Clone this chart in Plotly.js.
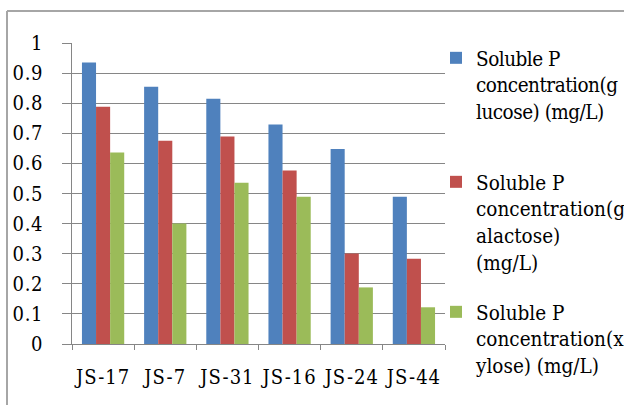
<!DOCTYPE html>
<html>
<head>
<meta charset="utf-8">
<script src="https://cdn.plot.ly/plotly-3.0.1.min.js"></script>
<style>
html,body{margin:0;padding:0;background:#fff;}
#chart{width:624px;height:405px;}
#chart .xtick text{letter-spacing:1px;}
#chart .ytick text{letter-spacing:0.6px;}
#chart .legend text{letter-spacing:-0.5px;}
</style>
</head>
<body>
<div id="chart"></div>
<script>
const categories = ["JS-17", "JS-7", "JS-31", "JS-16", "JS-24", "JS-44"];
const glucose   = [0.935, 0.855, 0.815, 0.729, 0.648, 0.489];
const galactose = [0.788, 0.675, 0.689, 0.576, 0.301, 0.283];
const xylose    = [0.636, 0.400, 0.536, 0.489, 0.188, 0.122];
const seriesNames = [
  "Soluble P<br>concentration(g<br>lucose) (mg/L)",
  "Soluble P<br>concentration(g<br>alactose)<br>(mg/L)",
  "Soluble P<br>concentration(x<br>ylose) (mg/L)"
];
const yTickVals = [0, 0.1, 0.2, 0.3, 0.4, 0.5, 0.6, 0.7, 0.8, 0.9, 1];
const yTickText = ["0", "0.1", "0.2", "0.3", "0.4", "0.5", "0.6", "0.7", "0.8", "0.9", "1"];

const colors = ["#4F81BD", "#C0504D", "#9BBB59"];
const FONT = "DejaVu Serif Condensed, DejaVu Serif, serif";
const legendKeys = ["legend", "legend2", "legend3"];

const traces = [glucose, galactose, xylose].map((vals, i) => ({
  type: "bar",
  x: categories,
  y: vals,
  name: seriesNames[i],
  marker: {color: colors[i]},
  legend: legendKeys[i],
  showlegend: true,
  hoverinfo: "skip"
}));

// pixel helpers for paper coordinates
const L = 72, R = 445, T = 43, B = 344;
const px = p => (p - L) / (R - L);
const py = p => (B - p) / (B - T);

function legendAt(topPx) {
  return {
    x: px(436), xanchor: "left",
    y: py(topPx), yanchor: "top",
    valign: "top",
    bgcolor: "rgba(0,0,0,0)",
    borderwidth: 0,
    font: {family: FONT, size: 20.5, color: "#000"},
    itemclick: false, itemdoubleclick: false,
    visible: true
  };
}

const layout = {
  width: 624, height: 405,
  margin: {l: L, r: 624 - R, t: T, b: 405 - B, pad: 0, autoexpand: false},
  paper_bgcolor: "#fff",
  plot_bgcolor: "#fff",
  showlegend: true,
  barmode: "group",
  bargap: 0.32,
  bargroupgap: 0,
  font: {family: FONT, size: 20, color: "#000"},
  xaxis: {
    type: "category",
    tickson: "boundaries",
    tickangle: 0,
    ticks: "outside", ticklen: 5, tickcolor: "#868686", tickwidth: 1,
    showline: true, linecolor: "#868686", linewidth: 1,
    showgrid: false,
    ticklabelstandoff: 15,
    tickfont: {family: FONT, size: 20, color: "#000"},
    automargin: false,
    fixedrange: true
  },
  yaxis: {
    range: [0, 1],
    tickvals: yTickVals,
    ticktext: yTickText,
    ticks: "outside", ticklen: 9, tickcolor: "#868686", tickwidth: 1,
    showline: true, linecolor: "#868686", linewidth: 1,
    showgrid: true, gridcolor: "#868686", gridwidth: 1,
    zeroline: false,
    ticklabelstandoff: 15,
    tickfont: {family: FONT, size: 20, color: "#000"},
    automargin: false,
    fixedrange: true
  },
  legend: legendAt(38),
  legend2: legendAt(162),
  legend3: legendAt(292),
  shapes: [
    {type: "line", xref: "paper", yref: "paper", x0: px(7), x1: px(640), y0: py(11), y1: py(11),
     line: {color: "#A6A6A6", width: 2}},
    {type: "line", xref: "paper", yref: "paper", x0: px(7), x1: px(7), y0: py(11), y1: py(420),
     line: {color: "#A6A6A6", width: 2}}
  ]
};

Plotly.newPlot("chart", traces, layout, {displayModeBar: false, staticPlot: true});
</script>
</body>
</html>
